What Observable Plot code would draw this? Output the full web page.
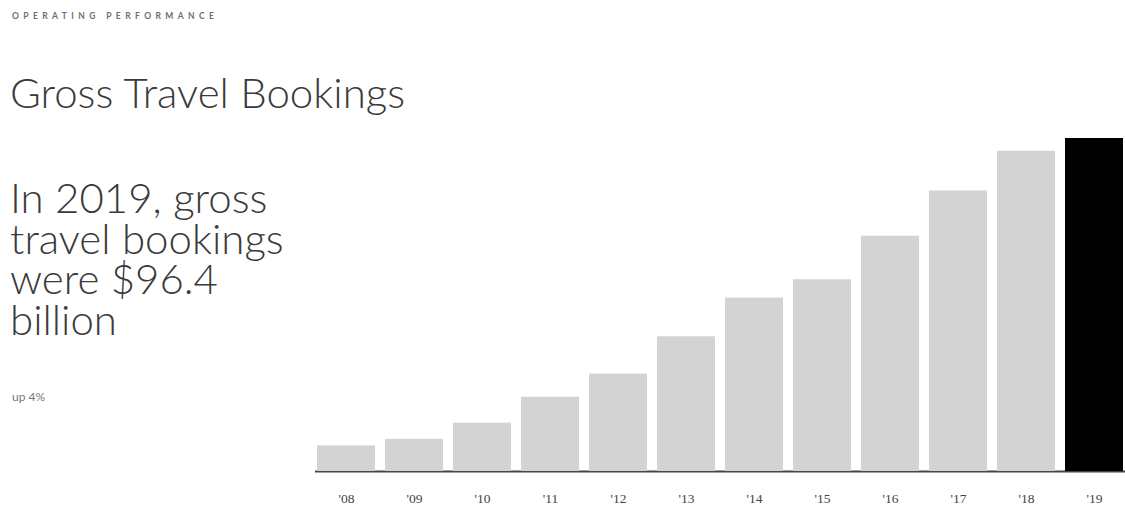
<!DOCTYPE html>
<html>
<head>
<meta charset="utf-8">
<script src="https://cdn.jsdelivr.net/npm/d3@7"></script>
<script src="https://cdn.jsdelivr.net/npm/@observablehq/plot@0.6"></script>
<style>
  html, body { margin: 0; padding: 0; background: #fff; }
  #wrap { position: relative; width: 1125px; height: 510px; overflow: hidden; font-family: Lato, "Open Sans", sans-serif; color: #3a3a3a; }
  #wrap svg { position: absolute; left: 0; top: 0; }
  .kicker { position: absolute; left: 12px; top: 11px; font-size: 8.5px; font-weight: 700; letter-spacing: 4.4px; color: #6e6e6e; }
  .title { position: absolute; left: 10px; top: 67px; font-size: 42px; font-weight: 300; white-space: nowrap; }
  .lead { position: absolute; left: 10px; top: 177px; font-size: 42px; font-weight: 300; line-height: 40.7px; }
  .note { position: absolute; left: 12px; top: 389px; font-size: 12px; color: #777; }
</style>
</head>
<body>
<div id="wrap">
  <div class="kicker">OPERATING PERFORMANCE</div>
  <div class="title">Gross Travel Bookings</div>
  <div class="lead">In 2019, gross<br>travel bookings<br>were $96.4<br>billion</div>
  <div class="note">up 4%</div>
</div>
<script>
const years = ["2008","2009","2010","2011","2012","2013","2014","2015","2016","2017","2018","2019"];
const tickLabels = ["'08","'09","'10","'11","'12","'13","'14","'15","'16","'17","'18","'19"];
const bookings = [7.4, 9.3, 14.0, 21.5, 28.2, 39.0, 50.2, 55.5, 68.1, 81.2, 92.7, 96.4];
const highlight = "2019";

const data = years.map((y, i) => ({year: y, value: bookings[i]}));
const labelOf = new Map(years.map((y, i) => [y, tickLabels[i]]));

const chart = Plot.plot({
  width: 1125,
  height: 510,
  marginLeft: 315,
  marginRight: 0,
  marginTop: 138,
  marginBottom: 39,
  style: {background: "transparent"},
  x: {type: "band", domain: years, paddingInner: 0.14, paddingOuter: 0, align: 0.5, label: null},
  y: {domain: [0, 96.4], nice: false, axis: null, label: null},
  marks: [
    Plot.ruleY([0], {stroke: "#454545", strokeWidth: 2.2}),
    Plot.barY(data, {x: "year", y: "value", fill: d => d.year === highlight ? "#000" : "#d3d3d3"}),
    Plot.axisX({tickSize: 0, tickPadding: 22, tickFormat: d => labelOf.get(d), fontSize: 13.5, fontFamily: "'Liberation Serif', serif", color: "#444", label: null}),
  ]
});
document.getElementById("wrap").prepend(chart);
</script>
</body>
</html>
